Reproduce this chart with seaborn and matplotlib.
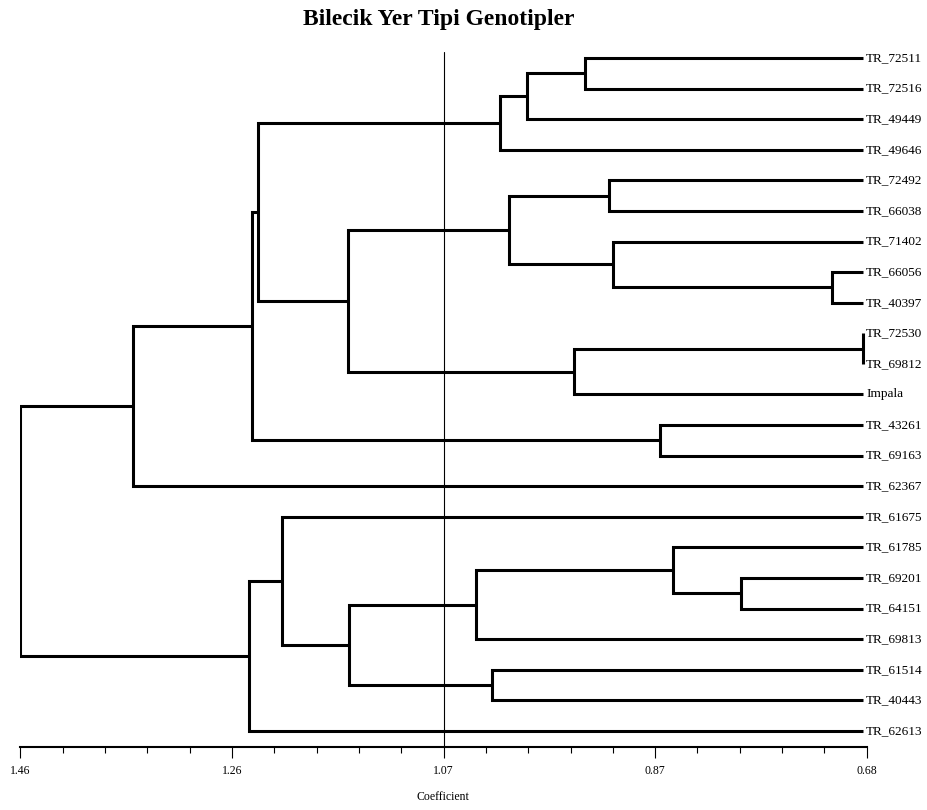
import numpy as np
import pandas as pd
import matplotlib
matplotlib.use("Agg")
import matplotlib.pyplot as plt
import seaborn as sns

# ---------------- data ----------------
leaf_names = ["TR_72511", "TR_72516", "TR_49449", "TR_49646", "TR_72492", "TR_66038",
              "TR_71402", "TR_66056", "TR_40397", "TR_72530", "TR_69812", "Impala",
              "TR_43261", "TR_69163", "TR_62367", "TR_61675", "TR_61785", "TR_69201",
              "TR_64151", "TR_69813", "TR_61514", "TR_40443", "TR_62613"]
leaf_height = 0.683

# merges: new cluster id = len(leaf_names) + merge index
merge_left = [9, 7, 17, 16, 12, 6, 4, 0, 23, 30, 29, 32, 20, 26, 33, 36, 15, 34, 40, 39, 41, 43]
merge_right = [10, 8, 18, 25, 13, 24, 5, 1, 11, 2, 28, 3, 21, 19, 31, 35, 38, 37, 27, 22, 14, 42]
merge_height = [0.683, 0.712, 0.796, 0.8585, 0.8705, 0.914, 0.9175, 0.9395, 0.9495, 0.993,
                1.0095, 1.018, 1.0255, 1.0405, 1.158, 1.1575, 1.2185, 1.241, 1.2465, 1.2495,
                1.3565, 1.46]

tick_values = [1.46, 1.265, 1.07, 0.875, 0.68]
tick_labels = ["1.46", "1.26", "1.07", "0.87", "0.68"]
ref_line = 1.07
title = "Bilecik Yer Tipi Genotipler"
xlabel = "Coefficient"

# ---------------- build segments ----------------
n = len(leaf_names)
node_x = {i: leaf_height for i in range(n)}
node_y = {i: float(i) for i in range(n)}
rows = []
for k, (a, b, h) in enumerate(zip(merge_left, merge_right, merge_height)):
    nid = n + k
    pts = [(node_x[a], node_y[a]), (h, node_y[a]), (h, node_y[b]), (node_x[b], node_y[b])]
    for j, (px, py) in enumerate(pts):
        rows.append({"seg": k, "order": j, "x": px, "y": py})
    node_x[nid] = h
    node_y[nid] = (node_y[a] + node_y[b]) / 2.0
df = pd.DataFrame(rows)

# ---------------- plot ----------------
sns.set_theme(style="white")
plt.rcParams["font.family"] = ["Liberation Serif", "DejaVu Serif"]
plt.rcParams["text.color"] = "black"
plt.rcParams["axes.labelcolor"] = "black"
plt.rcParams["xtick.color"] = "black"
plt.rcParams["xtick.labelcolor"] = "black"

fig = plt.figure(figsize=(9.27, 8.10), dpi=100)
ax = fig.add_axes([0.02211, 0.07778, 0.91284, 0.87284])

sns.lineplot(data=df, x="x", y="y", units="seg", estimator=None, sort=False,
             color="black", linewidth=2.2, ax=ax, legend=False)
for line in ax.lines:
    line.set_solid_joinstyle("miter")
    line.set_solid_capstyle("butt")

ax.set_xlim(1.46, 0.68)
ax.set_ylim(22.523, -0.588)

ax.plot([ref_line, ref_line], [-0.19, 22.523], color="black", linewidth=0.8, clip_on=False)

for i, name in enumerate(leaf_names):
    ax.annotate(name, xy=(leaf_height, i), xytext=(2, 0), textcoords="offset points",
                ha="left", va="center", fontsize=9.5, color="black", annotation_clip=False)

for s in ["top", "left", "right"]:
    ax.spines[s].set_visible(False)
ax.spines["bottom"].set_color("black")
ax.spines["bottom"].set_linewidth(1.5)
ax.set_yticks([])
ax.set_xticks(tick_values)
ax.set_xticklabels(tick_labels, fontsize=8.5, color="black")
ax.set_xticks(np.linspace(1.46, 0.68, 21), minor=True)
ax.tick_params(axis="x", which="major", direction="out", length=8, width=0.8,
               color="black", pad=5, bottom=True)
ax.tick_params(axis="x", which="minor", direction="out", length=4.3, width=0.8,
               color="black", bottom=True)
ax.set_xlabel("")
ax.set_ylabel("")
ax.grid(False)

fig.text(439 / 927, 1 - 25 / 810, title, ha="center", va="baseline",
         fontsize=17, fontweight="bold", color="black")
fig.text(443 / 927, 1 - 797 / 810, xlabel, ha="center", va="center", fontsize=8.5,
         color="black")

fig.savefig("out.png", dpi=100)
